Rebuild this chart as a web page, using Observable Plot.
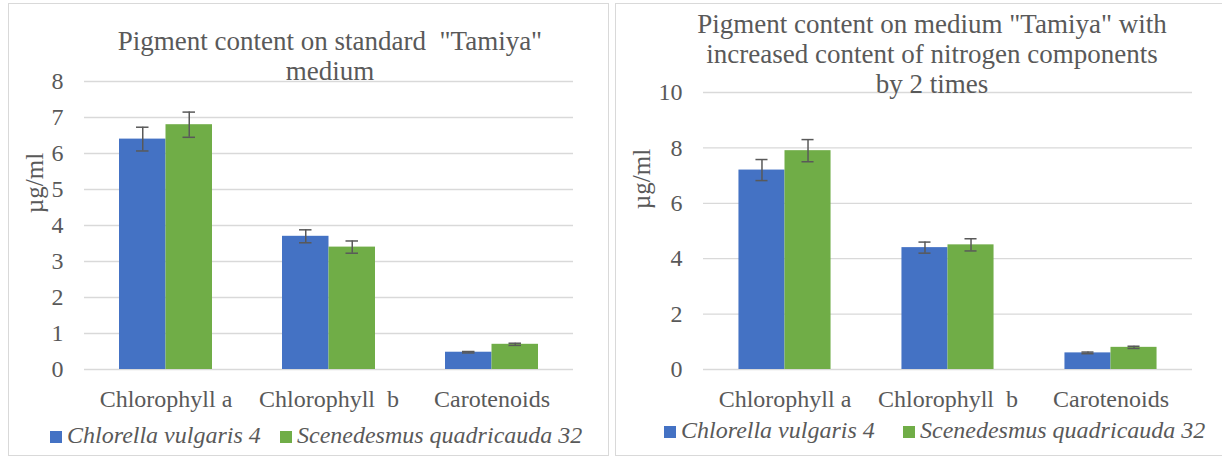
<!DOCTYPE html>
<html>
<head>
<meta charset="utf-8">
<script src="https://cdn.jsdelivr.net/npm/d3@7"></script>
<script src="https://cdn.jsdelivr.net/npm/@observablehq/plot@0.6"></script>
<style>
  html, body { margin: 0; padding: 0; background: #fff; }
  #wrap { position: relative; width: 1222px; height: 457px; overflow: hidden; background: #fff;
          font-family: "Liberation Serif", "Times New Roman", serif; color: #595959; }
  .panel { position: absolute; box-sizing: border-box; border: 1px solid #d9d9d9; }
  .chart { position: absolute; top: 0; }
  .chart svg text { white-space: pre; }
  .title { position: absolute; font-size: 27px; line-height: 30px; text-align: center; white-space: pre; }
  .ylab { position: absolute; width: 100px; height: 26px; line-height: 26px; font-size: 25px; text-align: center;
          transform: rotate(-90deg); white-space: nowrap; }
  .leg { position: absolute; font-size: 24px; line-height: 24px; font-style: italic; white-space: nowrap; }
  .sw { display: inline-block; width: 12px; height: 12px; margin-right: 5px; }
</style>
</head>
<body>
<div id="wrap">
  <div class="panel" style="left:8px;top:3px;width:601px;height:453px"></div>
  <div class="panel" style="left:615px;top:3px;width:612px;height:453px"></div>
  <div id="c1" class="chart" style="left:0px"></div>
  <div id="c2" class="chart" style="left:610px"></div>
  <div id="t1" class="title" style="left:80px;width:500px;top:26px"></div>
  <div id="t2" class="title" style="left:682px;width:500px;top:9px"></div>
  <div id="y1" class="ylab" style="left:-15px;top:170px"></div>
  <div id="y2" class="ylab" style="left:592px;top:166px"></div>
  <div id="l1a" class="leg" style="left:50px;top:423px"></div>
  <div id="l1b" class="leg" style="left:280px;top:423px"></div>
  <div id="l2a" class="leg" style="left:664px;top:418px"></div>
  <div id="l2b" class="leg" style="left:903px;top:418px"></div>
</div>
<script>
// ---- data ----
const categories = ["Chlorophyll a", "Chlorophyll  b", "Carotenoids"];
const series = ["Chlorella vulgaris 4", "Scenedesmus quadricauda 32"];
const colors = ["#4472C4", "#70AD47"];

const standardChlorella = [6.4, 3.7, 0.48];
const standardChlorellaErr = [0.33, 0.18, 0.02];
const standardScenedesmus = [6.8, 3.4, 0.7];
const standardScenedesmusErr = [0.35, 0.17, 0.03];

const nitrogenChlorella = [7.2, 4.4, 0.6];
const nitrogenChlorellaErr = [0.38, 0.2, 0.03];
const nitrogenScenedesmus = [7.9, 4.5, 0.8];
const nitrogenScenedesmusErr = [0.4, 0.22, 0.04];

const leftTicks = [0, 1, 2, 3, 4, 5, 6, 7, 8];
const rightTicks = [0, 2, 4, 6, 8, 10];

const title1 = ['Pigment content on standard  "Tamiya"', 'medium'];
const title2 = ['Pigment content on medium "Tamiya" with', 'increased content of nitrogen components', 'by 2 times'];
const yLabel = "µg/ml";

function makeData(v1, e1, v2, e2) {
  return categories.flatMap((c, i) => [
    {cat: c, s: series[0], v: v1[i], e: e1[i]},
    {cat: c, s: series[1], v: v2[i], e: e2[i]}
  ]);
}

function makeChart({data, ticks, width, marginLeft, marginRight, marginTop, po}) {
  const stroke = "#595959";
  return Plot.plot({
    width, height: 420, marginLeft, marginRight, marginTop, marginBottom: 51,
    style: {fontFamily: "'Liberation Serif', 'Times New Roman', serif", fontSize: "24px", color: "#595959", background: "transparent", overflow: "visible"},
    fx: {domain: categories, padding: 0, label: null, tickSize: 0, tickPadding: 20, axis: "bottom"},
    x: {domain: series, paddingInner: 0, paddingOuter: po, axis: null, round: false},
    y: {domain: [0, ticks[ticks.length - 1]], ticks, tickSize: 0, tickPadding: 21, label: null},
    color: {domain: series, range: colors},
    marks: [
      Plot.ruleY(ticks, {stroke: "#d9d9d9", strokeWidth: 1.3}),
      Plot.barY(data, {fx: "cat", x: "s", y: "v", fill: "s"}),
      Plot.ruleX(data, {fx: "cat", x: "s", y1: d => d.v - d.e, y2: d => d.v + d.e, stroke, strokeWidth: 1.5}),
      Plot.tickY(data, {fx: "cat", x: "s", y: d => d.v - d.e, insetLeft: 17, insetRight: 17, stroke, strokeWidth: 1.5}),
      Plot.tickY(data, {fx: "cat", x: "s", y: d => d.v + d.e, insetLeft: 17, insetRight: 17, stroke, strokeWidth: 1.5})
    ]
  });
}

document.getElementById("c1").append(makeChart({
  data: makeData(standardChlorella, standardChlorellaErr, standardScenedesmus, standardScenedesmusErr),
  ticks: leftTicks, width: 610, marginLeft: 84, marginRight: 37, marginTop: 81, po: 0.753
}));
document.getElementById("c2").append(makeChart({
  data: makeData(nitrogenChlorella, nitrogenChlorellaErr, nitrogenScenedesmus, nitrogenScenedesmusErr),
  ticks: rightTicks, width: 612, marginLeft: 92, marginRight: 29, marginTop: 92, po: 0.77
}));

document.getElementById("t1").textContent = title1.join("\n");
document.getElementById("t2").textContent = title2.join("\n");
document.getElementById("y1").textContent = yLabel;
document.getElementById("y2").textContent = yLabel;

function legendItem(id, i) {
  const el = document.getElementById(id);
  const sw = document.createElement("span");
  sw.className = "sw";
  sw.style.background = colors[i];
  el.append(sw, document.createTextNode(series[i]));
}
legendItem("l1a", 0); legendItem("l1b", 1);
legendItem("l2a", 0); legendItem("l2b", 1);
</script>
</body>
</html>
